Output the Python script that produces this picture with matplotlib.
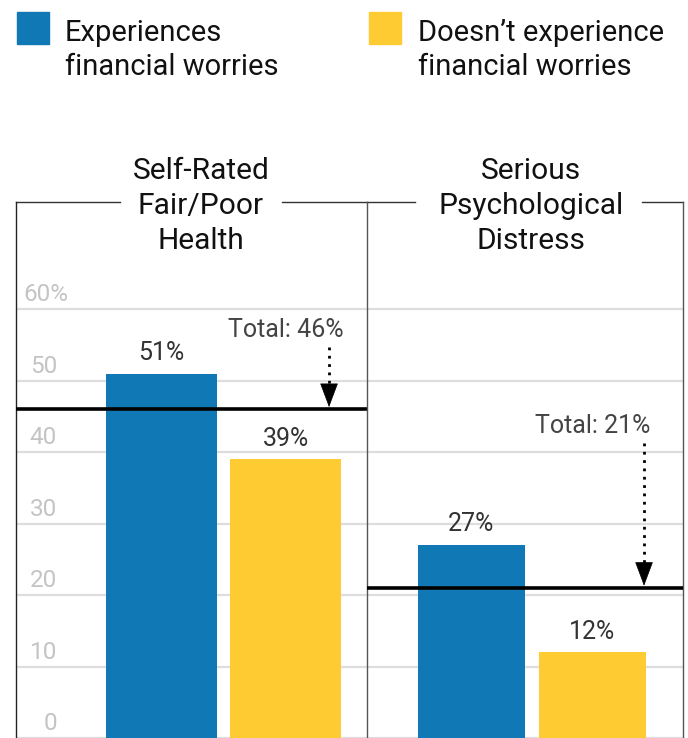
import numpy as np
import matplotlib
matplotlib.use("Agg")
import matplotlib.pyplot as plt
from matplotlib.patches import Rectangle

plt.rcParams['font.family'] = ['Roboto', 'DejaVu Sans']

# data
panels = ["Self-Rated\nFair/Poor\nHealth", "Serious\nPsychological\nDistress"]
series = ["Experiences\nfinancial worries", "Doesn\u2019t experience\nfinancial worries"]
worries = [51, 27]
no_worries = [39, 12]
totals = [46, 21]
yticks = [0, 10, 20, 30, 40, 50, 60]
ytick_labels = ["0", "10", "20", "30", "40", "50", "60%"]

blue = "#1079b5"
yellow = "#fecc32"
W, H = 688, 738

fig = plt.figure(figsize=(6.88, 7.38), dpi=100)

def px(x, y):
    return x / W, 1 - y / H

axl = fig.add_axes([16 / W, 0, 351 / W, 1 - 202 / H])
axr = fig.add_axes([367 / W, 0, 316 / W, 1 - 202 / H])
axes = [axl, axr]
xlims = [(-1.173, 1.657), (-0.864, 1.748)]
gaps = [(0.296, 0.758), (0.152, 0.870)]
arrow_x = [1.351, 1.426]
text_right = [1.472, 1.475]
text_top = [56.1, 42.7]
arrow_top = [54.7, 41.3]

for i, ax in enumerate(axes):
    ax.set_xlim(*xlims[i])
    ax.set_ylim(0, 75)
    for t in yticks:
        ax.axhline(t, color="#dddddd", lw=1.6, zorder=0)
    ax.bar(0, worries[i], width=0.89, color=blue, zorder=2)
    ax.bar(1, no_worries[i], width=0.89, color=yellow, zorder=2)
    for x, v in [(0, worries[i]), (1, no_worries[i])]:
        ax.text(x, v + 1.9, f"{v}%", ha="center", va="baseline",
                fontsize=18, color="#333333")
    ax.axhline(totals[i], color="black", lw=2.6, zorder=3)
    # dotted shaft + solid head
    ax.plot([arrow_x[i], arrow_x[i]], [arrow_top[i], totals[i] + 2.0], color="black",
            lw=2, linestyle=(0, (1, 2)), zorder=4)
    ax.annotate("", xy=(arrow_x[i], totals[i] + 0.3), xytext=(arrow_x[i], totals[i] + 2.6),
                arrowprops=dict(arrowstyle="-|>,head_length=0.8,head_width=0.3",
                                lw=0.5, color="black", mutation_scale=20,
                                shrinkA=0, shrinkB=0),
                zorder=4)
    ax.text(text_right[i], text_top[i], f"Total: {totals[i]}%", ha="right",
            va="baseline", fontsize=18, color="#444444")
    ax.set_xticks([])
    ax.set_yticks([])
    for s in ["top", "bottom", "left", "right"]:
        ax.spines[s].set_visible(False)
    ax.patch.set_alpha(0)
    # broken top frame line
    ax.plot([0, gaps[i][0]], [1, 1], transform=ax.transAxes, color="#333333",
            lw=1, clip_on=False)
    ax.plot([gaps[i][1], 1], [1, 1], transform=ax.transAxes, color="#333333",
            lw=1, clip_on=False)

axl.spines["left"].set_visible(True)
axl.spines["left"].set_color("#222222")
axr.spines["left"].set_visible(True)
axr.spines["left"].set_color("#555555")
axr.spines["right"].set_visible(True)
axr.spines["right"].set_color("#555555")
for ax in axes:
    for s in ["left", "right"]:
        ax.spines[s].set_linewidth(1)

# y tick labels on the left panel
for t, lab in zip(yticks, ytick_labels):
    if lab.endswith("%"):
        axl.text(-1.11, t + 1.1, lab, ha="left", va="baseline", fontsize=17.5,
                 color="#c4c4c4")
    else:
        axl.text(-0.843, t + 1.1, lab, ha="right", va="baseline", fontsize=17.5,
                 color="#c4c4c4")

# panel titles
for cx, title in zip([201, 531], panels):
    fig.text(*px(cx, 206), title, ha="center", va="center", fontsize=21.5,
             linespacing=1.3, color="#111111")

# legend
for (lx, tx), lab, c in zip([(17, 65), (369, 418)], series, [blue, yellow]):
    fig.add_artist(Rectangle(px(lx, 44), 32 / W, 32 / H, color=c,
                             transform=fig.transFigure))
    fig.text(*px(tx, 50), lab, ha="left", va="center", fontsize=21,
             linespacing=1.25, color="#111111")

fig.savefig("out.png", dpi=100)
